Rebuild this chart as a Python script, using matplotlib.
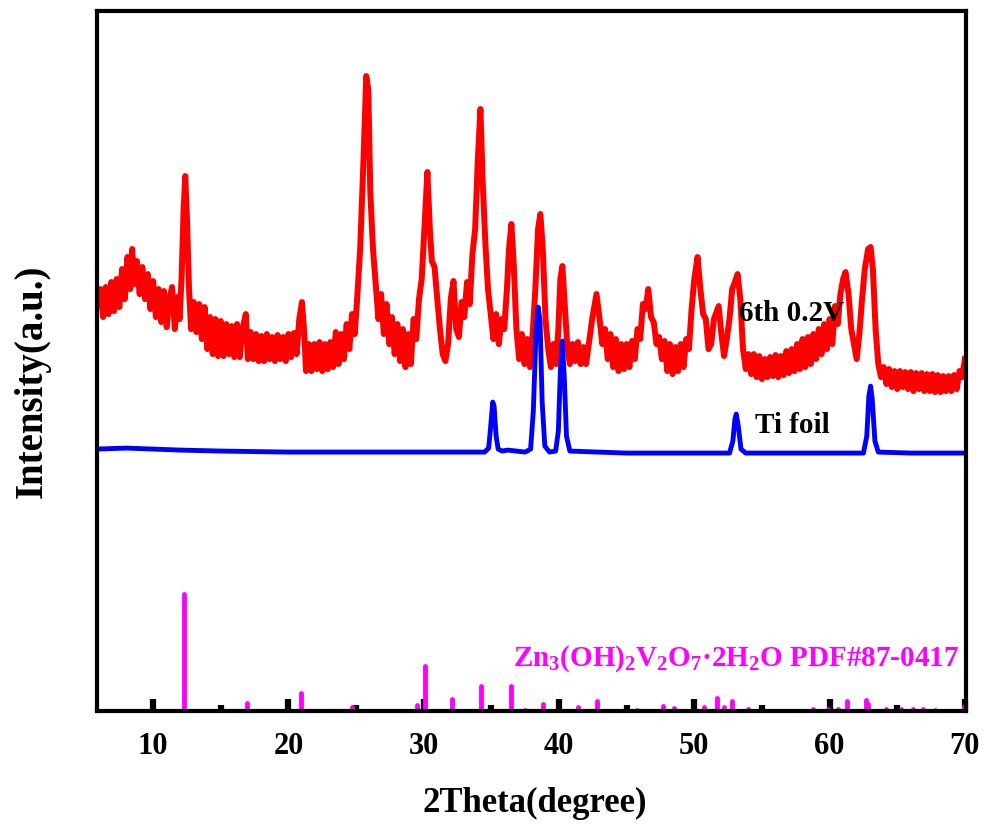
import matplotlib
matplotlib.use("Agg")
import matplotlib.pyplot as plt
from matplotlib.ticker import MultipleLocator

plt.rcParams["font.family"] = "Liberation Serif"
plt.rcParams["font.weight"] = "bold"
plt.rcParams["mathtext.fontset"] = "custom"
plt.rcParams["mathtext.rm"] = "Liberation Serif:bold"
plt.rcParams["mathtext.it"] = "Liberation Serif:bold"
plt.rcParams["mathtext.bf"] = "Liberation Serif:bold"

# 6th 0.2V sample (noisy pattern)
red_x = [5.9, 6.1, 6.3, 6.5, 6.7, 6.9, 7.1, 7.3, 7.5, 7.7, 7.9, 8.1, 8.3, 8.45, 8.6, 8.8,
         9.0, 9.2, 9.4, 9.6, 9.8, 10.0, 10.2, 10.4, 10.6, 10.8, 11.0, 11.2, 11.4, 11.6, 11.8,
         11.95, 12.1, 12.25, 12.37, 12.5, 12.65, 12.8, 13.0, 13.2, 13.4, 13.6, 13.8, 14.0,
         14.2, 14.4, 14.6, 14.8, 15.0, 15.2, 15.4, 15.6, 15.8, 16.0, 16.2, 16.4, 16.6, 16.85,
         17.0, 17.2, 17.4, 17.6, 17.8, 18.0, 18.2, 18.4, 18.6, 18.8, 19.0, 19.2, 19.4, 19.6,
         19.8, 20.0, 20.2, 20.4, 20.6, 20.8, 21.0, 21.15, 21.3, 21.5, 21.7, 21.9, 22.1, 22.3,
         22.5, 22.7, 22.9, 23.1, 23.3, 23.5, 23.7, 23.9, 24.1, 24.3, 24.5, 24.7, 24.9, 25.1,
         25.3, 25.55, 25.75, 25.9, 26.05, 26.25, 26.45, 26.65, 26.85, 27.05, 27.25, 27.45,
         27.65, 27.85, 28.05, 28.25, 28.45, 28.65, 28.85, 29.05, 29.25, 29.45, 29.65, 29.85,
         30.05, 30.27, 30.45, 30.6, 30.8, 31.0, 31.2, 31.4, 31.6, 31.8, 32.0, 32.2, 32.4,
         32.6, 32.8, 33.0, 33.2, 33.4, 33.6, 33.8, 34.0, 34.19, 34.35, 34.55, 34.75, 34.95,
         35.15, 35.35, 35.55, 35.75, 35.95, 36.15, 36.3, 36.48, 36.65, 36.85, 37.05, 37.25,
         37.45, 37.65, 37.85, 38.05, 38.25, 38.45, 38.62, 38.8, 39.0, 39.2, 39.4, 39.6, 39.8,
         39.95, 40.1, 40.25, 40.4, 40.6, 40.8, 41.0, 41.2, 41.4, 41.6, 41.8, 42.0, 42.2,
         42.45, 42.77, 43.0, 43.2, 43.4, 43.6, 43.8, 44.0, 44.2, 44.4, 44.6, 44.8, 45.0,
         45.2, 45.4, 45.6, 45.8, 46.0, 46.2, 46.4, 46.6, 46.8, 47.0, 47.2, 47.4, 47.6, 47.8,
         48.0, 48.2, 48.4, 48.6, 48.8, 49.0, 49.2, 49.4, 49.6, 49.8, 50.0, 50.24, 50.45,
         50.65, 50.85, 51.05, 51.25, 51.45, 51.8, 52.0, 52.2, 52.4, 52.6, 52.8, 53.0, 53.2,
         53.4, 53.6, 53.8, 54.0, 54.2, 54.4, 54.6, 54.8, 55.0, 55.2, 55.4, 55.6, 55.8, 56.0,
         56.2, 56.4, 56.6, 56.8, 57.0, 57.2, 57.4, 57.6, 57.8, 58.0, 58.2, 58.4, 58.6, 58.8,
         59.0, 59.2, 59.4, 59.6, 59.8, 60.0, 60.2, 60.4, 60.6, 60.8, 61.0, 61.18, 61.4, 61.6,
         61.8, 62.0, 62.2, 62.4, 62.6, 62.85, 63.03, 63.2, 63.4, 63.6, 63.8, 64.0, 64.2, 64.4,
         64.6, 64.8, 65.0, 65.2, 65.4, 65.6, 65.8, 66.0, 66.2, 66.4, 66.6, 66.8, 67.0, 67.2,
         67.4, 67.6, 67.8, 68.0, 68.2, 68.4, 68.6, 68.8, 69.0, 69.2, 69.4, 69.6, 69.8, 70.0]
red_y = [407, 422, 394, 424, 397, 429, 400, 432, 404, 442, 412, 454, 422, 462, 427, 450,
         417, 444, 412, 437, 402, 430, 394, 422, 389, 420, 384, 412, 424, 382, 414,
         392, 432, 502, 535, 492, 422, 382, 409, 379, 407, 372, 404, 362,
         394, 357, 392, 355, 390, 355, 387, 357, 385, 354, 387, 354, 382, 397,
         352, 379, 352, 377, 350, 375, 350, 377, 352, 374, 350, 376, 352, 374,
         350, 377, 354, 378, 357, 392, 409, 382, 340, 367, 340, 367, 342, 369,
         340, 367, 342, 369, 344, 379, 347, 377, 352, 387, 362, 397, 377, 417,
         462, 552, 635, 622, 519, 462, 427, 392, 417, 377, 407, 367,
         394, 357, 387, 350, 382, 344, 377, 347, 392, 372, 412, 432,
         482, 539, 482, 450, 444, 412, 382, 357, 350, 367, 412, 430, 382,
         374, 409, 394, 429, 407, 457, 482, 552, 602, 532, 469, 422, 397,
         372, 397, 367, 392, 382, 422, 462, 487, 447, 382, 352, 377,
         347, 372, 344, 377, 422, 482, 497, 462, 392, 362, 344, 367, 347,
         382, 432, 445, 412, 367, 347, 367, 350, 369, 347, 364, 347, 367,
         392, 417, 392, 367, 382, 352, 377, 344, 372, 340, 367, 342, 367,
         344, 370, 352, 382, 372, 407, 402, 422, 394, 389, 367, 374, 352, 370,
         340, 367, 337, 364, 340, 367, 344, 372, 362, 402, 432, 454, 422,
         397, 392, 362, 367, 392, 405, 377, 355, 372, 392, 422, 429, 437,
         412, 362, 342, 357, 337, 357, 334, 355, 332, 352, 334, 354, 335, 356,
         334, 355, 336, 360, 338, 362, 340, 367, 342, 372, 344, 374, 347, 377,
         352, 382, 357, 387, 362, 392, 367, 405, 387, 417, 432, 439, 417, 382,
         367, 352, 377, 412, 442, 462, 464, 442, 382, 347, 334, 344, 327, 342,
         324, 340, 322, 340, 324, 339, 322, 339, 320, 338, 322, 338, 320, 337,
         320, 337, 319, 336, 319, 335, 320, 335, 320, 336, 322, 340, 334, 352]

# Ti foil
blue_x = [5.85, 8, 10, 12, 15, 20, 25, 30, 34.5, 34.8, 34.95, 35.1, 35.2, 35.35, 35.5,
          35.8, 36.2, 37.5, 37.9, 38.1, 38.3, 38.45, 38.6, 38.75, 38.95, 39.3, 39.75, 39.95,
          40.1, 40.25, 40.4, 40.55, 40.8, 45, 50, 52.6, 52.85, 53.0, 53.1, 53.25, 53.45,
          53.8, 58, 62.5, 62.75, 62.9, 63.03, 63.15, 63.35, 63.6, 66, 70]
blue_y = [262, 263, 262, 261, 260, 259, 259, 259, 259, 263, 285, 309, 305, 275, 262,
          260, 261, 259, 262, 300, 380, 404, 390, 310, 265, 259, 260, 280,
          340, 370, 330, 275, 260, 258, 258, 258, 270, 292, 297, 285, 262,
          258, 258, 258, 275, 315, 325, 312, 270, 259, 258, 258]

# Zn3(OH)2V2O7·2H2O PDF#87-0417 reference lines
ref_pos = [12.3, 16.95, 20.95, 24.7, 29.5, 30.1, 32.1, 34.26, 36.48, 37.5, 38.85, 41.4,
           42.77, 45.8, 47.7, 48.5, 50.75, 51.7, 52.2, 52.8, 54.0, 58.8, 59.9, 60.6, 61.3,
           62.7, 62.85, 64.2, 65.3, 66.2, 66.9, 67.8, 69.9]
ref_int = [117, 8, 18, 4, 6, 45, 12, 25, 25, 1, 7, 4,
           10, 1, 5, 3, 4, 13, 4, 10, 2, 2, 2, 2, 10,
           11, 7, 2, 2, 2, 2, 1, 4]

fig = plt.figure(figsize=(9.9, 8.29), dpi=100)
ax = fig.add_axes([0.098, 0.141, 0.878, 0.8445])

ax.plot(red_x, red_y, color="#ff0000", lw=4.3, solid_joinstyle="round")
ax.plot(blue_x, blue_y, color="#0000ff", lw=3.5, solid_joinstyle="round")
sticks = ax.vlines(ref_pos, 0, ref_int, color="#ff00ff", lw=3.5)
sticks.set_capstyle("round")

ax.text(53.27, 399, "6th 0.2V", fontsize=21, fontweight="bold", va="center")
ax.text(54.5, 287, "Ti foil", fontsize=21, fontweight="bold", va="center")
ax.text(69.6, 53, r"Zn$_{3}$(OH)$_{2}$V$_{2}$O$_{7}$·2H$_{2}$O PDF#87-0417",
        fontsize=21, fontweight="bold", color="#ff00ff", ha="right", va="center")

ax.set_xlim(5.85, 70.1)
ax.set_ylim(0, 700)
ax.xaxis.set_major_locator(MultipleLocator(10))
ax.xaxis.set_minor_locator(MultipleLocator(5))
ax.set_yticks([])
ax.tick_params(axis="x", which="major", direction="in", length=9, width=4.5,
               labelsize=22, pad=14)
ax.tick_params(axis="x", which="minor", direction="in", length=4, width=4.5)
for lab in ax.get_xticklabels():
    lab.set_fontweight("bold")
for sp in ax.spines.values():
    sp.set_linewidth(3)

xl = ax.set_xlabel("2Theta(degree)", fontsize=25, fontweight="bold")
xl.set_va("center")
ax.xaxis.set_label_coords(0.504, -0.13)
yl = ax.set_ylabel("Intensity(a.u.)", fontsize=28, fontweight="bold")
yl.set_va("center")
ax.yaxis.set_label_coords(-0.075, 0.473)

fig.savefig("out.png", dpi=100)
